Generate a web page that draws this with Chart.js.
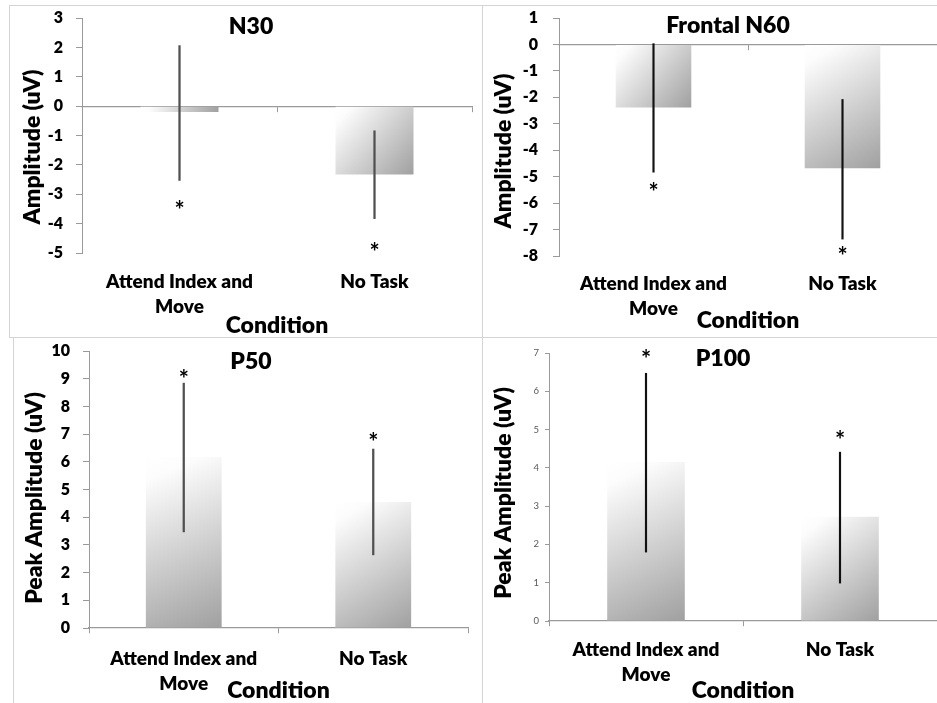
<!DOCTYPE html>
<html>
<head>
<meta charset="utf-8">
<script src="https://cdn.jsdelivr.net/npm/chart.js@4.4.1/dist/chart.umd.min.js"></script>
<style>
  body { margin: 0; background: #fff; width: 937px; height: 703px; overflow: hidden; position: relative; }
  .panel { position: absolute; }
  .rule { position: absolute; background: #d4d4d4; }
</style>
</head>
<body>
<div class="rule" style="left:9px;top:5px;width:928px;height:1px"></div>
<div class="rule" style="left:9px;top:5px;width:1px;height:332px"></div>
<div class="rule" style="left:9px;top:337px;width:928px;height:1px"></div>
<div class="rule" style="left:482px;top:5px;width:1px;height:698px"></div>
<div class="rule" style="left:13px;top:337px;width:1px;height:366px"></div>

<div class="panel" style="left:10px;top:6px;width:472px;height:331px"><canvas id="n30"></canvas></div>
<div class="panel" style="left:483px;top:6px;width:454px;height:331px"><canvas id="n60"></canvas></div>
<div class="panel" style="left:14px;top:338px;width:468px;height:365px"><canvas id="p50"></canvas></div>
<div class="panel" style="left:483px;top:338px;width:454px;height:365px"><canvas id="p100"></canvas></div>

<script>
const conditions = [['Attend Index and', 'Move'], 'No Task'];

// N30
const n30Mean = [-0.2, -2.33];
const n30Low = [-2.53, -3.83];
const n30High = [2.06, -0.84];
const n30Star = [-3.34, -4.76];
const n30Range = [-5, 3];

// Frontal N60
const n60Mean = [-2.38, -4.68];
const n60Low = [-4.83, -7.36];
const n60High = [0.03, -2.08];
const n60Star = [-5.36, -7.8];
const n60Range = [-8, 1];

// P50
const p50Mean = [6.17, 4.55];
const p50Low = [3.47, 2.64];
const p50High = [8.84, 6.46];
const p50Star = [9.2, 6.93];
const p50Range = [0, 10];

// P100
const p100Mean = [4.15, 2.72];
const p100Low = [1.8, 0.99];
const p100High = [6.47, 4.41];
const p100Star = [7.0, 4.88];
const p100Range = [0, 7];

const FONT = 'Lato, "Open Sans", sans-serif';
const BAR_PCT = 0.4;
const AXIS_GRAY = '#9a9a9a';

// white -> grey diagonal fill like the Excel preset gradient
function barGradient(c) {
    const chart = c.chart;
    if (!chart.chartArea || c.type !== 'data') return '#c8c8c8';
    const x = chart.scales.x;
    const y = chart.scales.y;
    const half = x.width / chart.data.labels.length * BAR_PCT / 2;
    const cx = x.getPixelForValue(c.dataIndex);
    const top = y.getPixelForValue(Math.max(c.raw, 0));
    const bottom = y.getPixelForValue(Math.min(c.raw, 0));
    const g = chart.ctx.createLinearGradient(cx - half, top, cx + half, bottom);
    g.addColorStop(0, '#ffffff');
    g.addColorStop(0.12, '#fcfcfc');
    g.addColorStop(1, '#a0a0a0');
    return g;
}

// chart title, rotated y title and the significance stars
const panelText = {
    id: 'panelText',
    afterDraw(chart, args, o) {
        const ctx = chart.ctx;
        const x = chart.scales.x;
        const y = chart.scales.y;
        ctx.save();
        ctx.fillStyle = '#000';
        ctx.textAlign = 'center';
        ctx.textBaseline = 'middle';
        ctx.font = '800 23px ' + FONT;
        ctx.fillText(o.title, o.titleX, o.titleY);

        ctx.font = 'bold 24px ' + FONT;
        o.stars.forEach((v, i) => {
            ctx.fillText('*', x.getPixelForValue(i), y.getPixelForValue(v) + 7);
        });

        ctx.translate(o.yTitleX, o.yTitleY);
        ctx.rotate(-Math.PI / 2);
        ctx.font = '800 23px ' + FONT;
        ctx.fillText(o.yTitle, 0, 0);
        ctx.restore();
    }
};

function makeChart(id, d) {
    const ctx = document.getElementById(id).getContext('2d');
    return new Chart(ctx, {
        type: 'bar',
        data: {
            labels: conditions,
            datasets: [
                {
                    label: 'Error',
                    data: d.low.map((lo, i) => [lo, d.high[i]]),
                    backgroundColor: d.errColor,
                    barThickness: d.errWidth,
                    grouped: false,
                    order: 0,
                },
                {
                    label: 'Mean',
                    data: d.mean,
                    backgroundColor: barGradient,
                    barPercentage: BAR_PCT,
                    categoryPercentage: 1,
                    grouped: false,
                    order: 1,
                },
            ],
        },
        options: {
            responsive: true,
            maintainAspectRatio: false,
            animation: false,
            layout: { padding: { top: d.padTop, right: d.padRight, left: 0, bottom: 0 } },
            plugins: {
                legend: { display: false },
                tooltip: { enabled: false },
                panelText: {
                    title: d.title, titleX: d.titleX, titleY: d.titleY,
                    yTitle: d.yTitle, yTitleX: d.yTitleX, yTitleY: d.yTitleY,
                    stars: d.stars,
                },
            },
            scales: {
                x: {
                    type: 'category',
                    offset: true,
                    grid: { display: false },
                    border: { display: false },
                    ticks: {
                        color: '#000',
                        padding: d.labelPad,
                        maxRotation: 0,
                        autoSkip: false,
                        font: { family: FONT, size: 19, weight: 800, lineHeight: '25px' },
                    },
                    title: {
                        display: true,
                        text: 'Condition',
                        color: '#000',
                        padding: { top: 0, bottom: d.condPad },
                        font: { family: FONT, size: 23, weight: 800, lineHeight: 1.2 },
                    },
                    afterFit: s => { s.height = d.xHeight; },
                },
                // zero line with the between-category tick marks
                x2: {
                    type: 'category',
                    position: { y: 0 },
                    offset: true,
                    grid: { offset: true, drawOnChartArea: false, tickLength: 5, color: AXIS_GRAY },
                    border: { color: AXIS_GRAY, width: 1.2 },
                    ticks: { display: false },
                },
                y: {
                    min: d.range[0],
                    max: d.range[1],
                    grid: { drawOnChartArea: false, tickLength: d.tickLen, color: AXIS_GRAY },
                    border: { color: AXIS_GRAY },
                    ticks: {
                        stepSize: 1,
                        color: d.tickColor,
                        padding: d.tickPad,
                        font: { family: FONT, size: d.tickSize, weight: d.tickWeight },
                    },
                    afterFit: s => {
                        s.width = d.yWidth;
                        // keep the end labels from pushing the plot area in
                        s.paddingTop = 0;
                        s.paddingBottom = 0;
                    },
                },
            },
        },
        plugins: [panelText],
    });
}

makeChart('n30', {
    mean: n30Mean, low: n30Low, high: n30High, stars: n30Star, range: n30Range,
    title: 'N30', titleX: 241, titleY: 21,
    yTitle: 'Amplitude (uV)', yTitleX: 23, yTitleY: 141,
    padTop: 12, padRight: 10, yWidth: 72, xHeight: 84, labelPad: 8, condPad: -2,
    tickLen: 6, tickPad: 13, tickSize: 16, tickWeight: 800, tickColor: '#000',
    errColor: '#505050', errWidth: 1.6,
});

makeChart('n60', {
    mean: n60Mean, low: n60Low, high: n60High, stars: n60Star, range: n60Range,
    title: 'Frontal N60', titleX: 245, titleY: 20,
    yTitle: 'Amplitude (uV)', yTitleX: 21, yTitleY: 145,
    padTop: 12, padRight: 0, yWidth: 76, xHeight: 81, labelPad: 7, condPad: 3,
    tickLen: 6, tickPad: 15, tickSize: 16, tickWeight: 800, tickColor: '#000',
    errColor: '#111111', errWidth: 1.5,
});

makeChart('p50', {
    mean: p50Mean, low: p50Low, high: p50High, stars: p50Star, range: p50Range,
    title: 'P50', titleX: 237, titleY: 24,
    yTitle: 'Peak Amplitude (uV)', yTitleX: 20.5, yTitleY: 160,
    padTop: 13, padRight: 14, yWidth: 75, xHeight: 75, labelPad: 10, condPad: -1,
    tickLen: 6, tickPad: 13, tickSize: 16, tickWeight: 800, tickColor: '#000',
    errColor: '#505050', errWidth: 1.6,
});

makeChart('p100', {
    mean: p100Mean, low: p100Low, high: p100High, stars: p100Star, range: p100Range,
    title: 'P100', titleX: 240, titleY: 21,
    yTitle: 'Peak Amplitude (uV)', yTitleX: 21, yTitleY: 155,
    padTop: 15, padRight: 0, yWidth: 66, xHeight: 82, labelPad: 8, condPad: -1,
    tickLen: 4, tickPad: 6, tickSize: 9.5, tickWeight: 'normal', tickColor: '#595959',
    errColor: '#111111', errWidth: 1.5,
});
</script>
</body>
</html>
